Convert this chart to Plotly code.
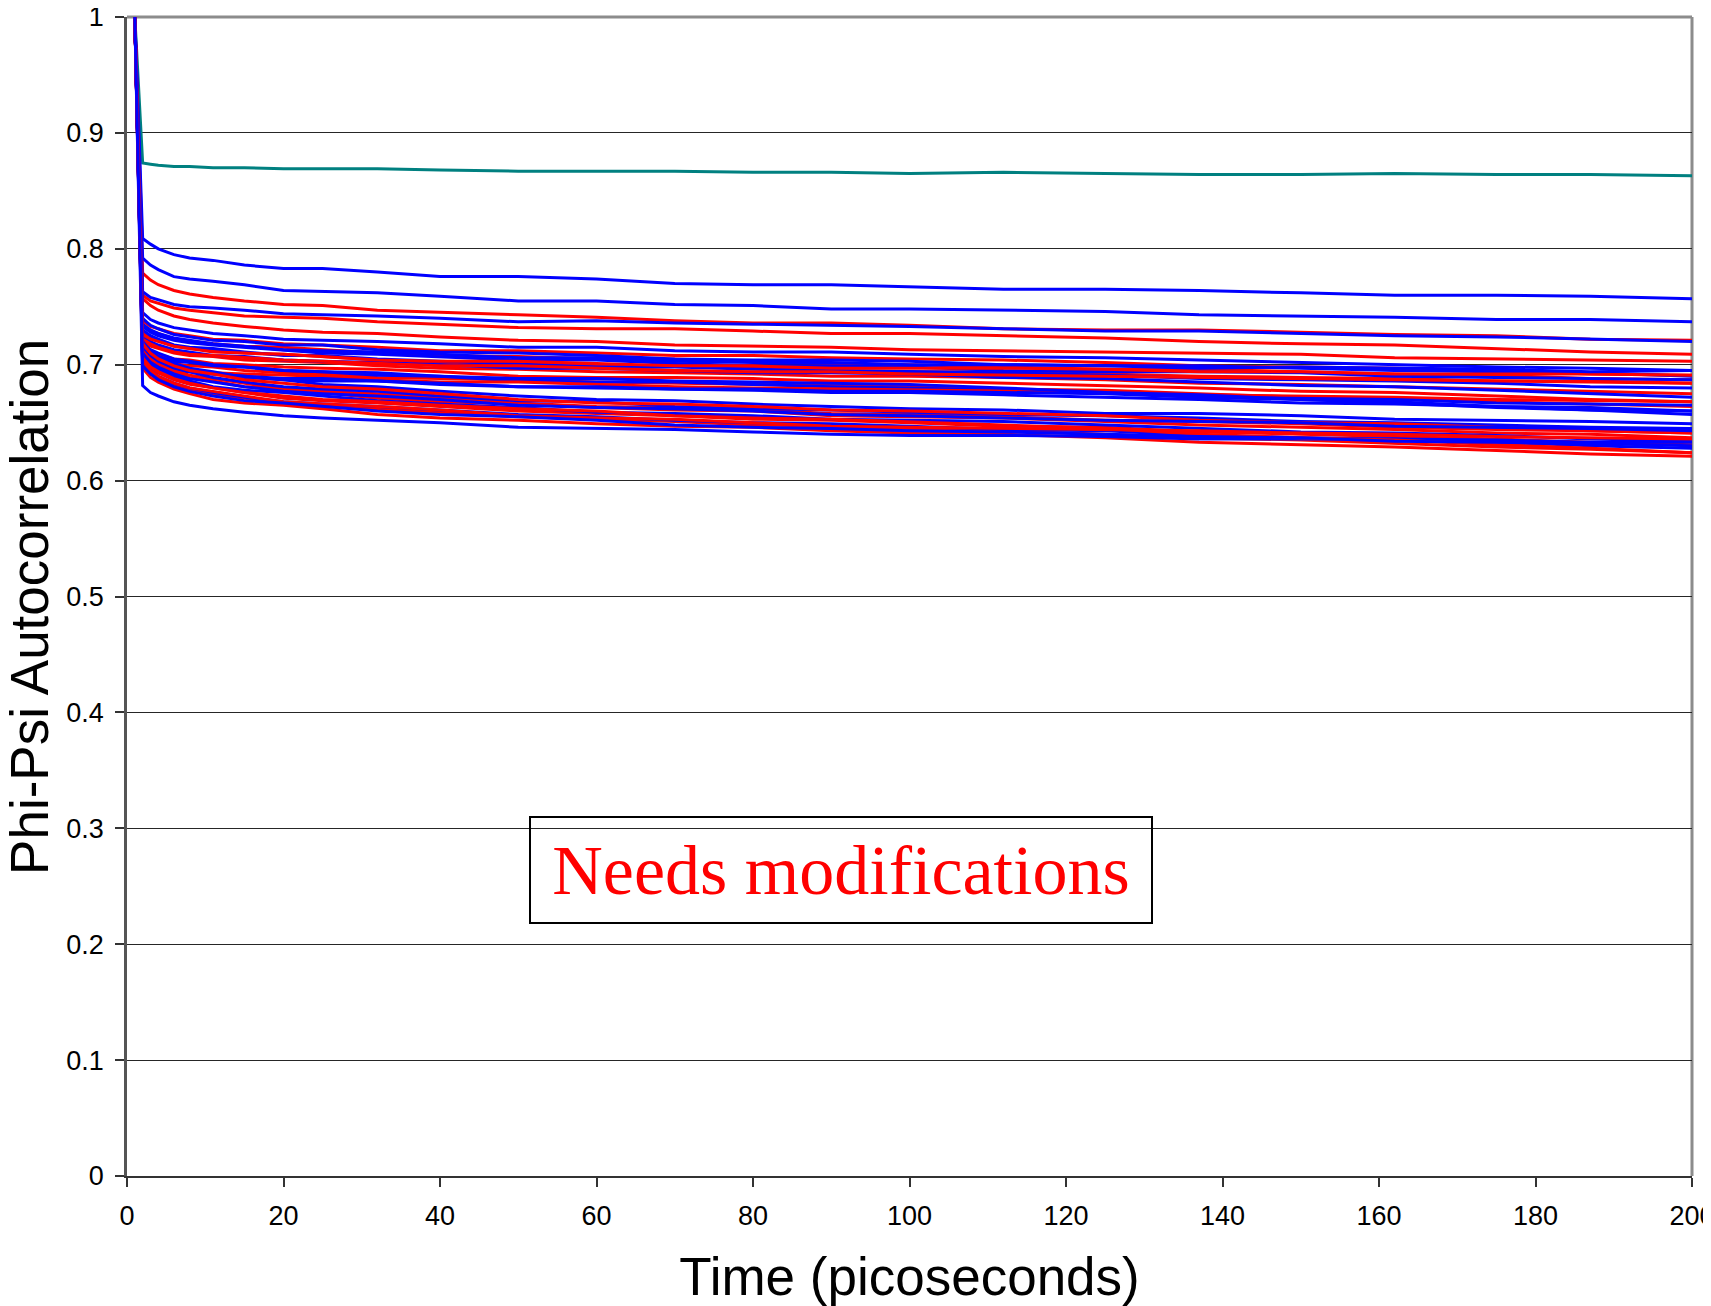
import plotly.graph_objects as go

# Time axis (picoseconds)
time_ps = [1, 2, 3, 4, 6, 8, 11, 15, 20, 25, 32, 40, 50, 60, 70, 80, 90, 100,
           112, 125, 137, 150, 162, 175, 187, 200]

# Teal reference run
teal_run = [1, .874, .873, .872, .871, .871, .870, .870, .869, .869, .869, .868, .867,
            .867, .867, .866, .866, .865, .866, .865, .864, .864, .865, .864, .864, .863]

# Blue runs
blue_runs = [
    [1, .809, .804, .800, .795, .792, .790, .786, .783, .783, .780, .776, .776, .774, .770, .769, .769, .767, .765, .765, .764, .762, .760, .760, .759, .757],
    [1, .792, .786, .782, .776, .774, .772, .769, .764, .763, .762, .759, .755, .755, .752, .751, .748, .748, .747, .746, .743, .742, .741, .739, .739, .737],
    [1, .763, .758, .756, .752, .750, .749, .747, .744, .743, .742, .740, .737, .738, .736, .735, .734, .733, .731, .729, .729, .727, .725, .724, .722, .720],
    [1, .745, .739, .736, .732, .730, .727, .725, .722, .721, .720, .718, .715, .715, .712, .711, .711, .709, .707, .706, .704, .702, .700, .698, .697, .695],
    [1, .740, .734, .731, .726, .724, .721, .720, .717, .717, .713, .711, .710, .708, .705, .704, .704, .703, .700, .699, .699, .697, .695, .694, .693, .690],
    [1, .733, .728, .725, .721, .719, .717, .715, .712, .710, .709, .707, .704, .704, .701, .699, .699, .698, .695, .694, .694, .693, .690, .689, .688, .687],
    [1, .730, .725, .722, .717, .715, .714, .711, .708, .708, .705, .703, .701, .698, .698, .696, .695, .694, .693, .691, .688, .687, .686, .684, .681, .680],
    [1, .724, .720, .717, .713, .711, .708, .707, .704, .703, .702, .700, .697, .697, .695, .693, .693, .692, .689, .688, .685, .682, .681, .678, .675, .672],
    [1, .718, .713, .710, .705, .703, .700, .698, .695, .694, .693, .690, .686, .685, .685, .683, .681, .680, .678, .676, .672, .670, .668, .664, .663, .660],
    [1, .714, .709, .707, .703, .702, .699, .698, .695, .694, .691, .690, .688, .688, .686, .685, .684, .683, .680, .676, .674, .670, .667, .663, .661, .657],
    [1, .707, .703, .700, .697, .695, .692, .690, .688, .688, .686, .683, .681, .680, .679, .678, .676, .676, .674, .672, .670, .667, .666, .664, .661, .660],
    [1, .705, .701, .699, .695, .694, .692, .690, .687, .686, .686, .684, .681, .681, .679, .679, .677, .677, .676, .675, .672, .671, .670, .667, .666, .665],
    [1, .735, .730, .727, .723, .721, .718, .716, .713, .712, .711, .709, .706, .706, .703, .702, .702, .700, .700, .699, .697, .698, .697, .696, .694, .695],
    [1, .720, .712, .707, .701, .697, .694, .689, .687, .683, .681, .677, .673, .670, .669, .666, .664, .662, .661, .658, .658, .656, .653, .652, .651, .649],
    [1, .716, .708, .703, .697, .694, .689, .685, .681, .679, .677, .673, .669, .668, .664, .662, .661, .659, .657, .656, .654, .651, .650, .648, .646, .645],
    [1, .708, .700, .696, .690, .686, .681, .678, .676, .673, .669, .666, .663, .659, .658, .656, .653, .652, .651, .648, .645, .642, .641, .639, .636, .634],
    [1, .702, .695, .690, .684, .680, .676, .672, .668, .666, .664, .661, .657, .655, .652, .650, .649, .647, .644, .643, .639, .637, .636, .633, .630, .628],
    [1, .682, .676, .673, .668, .665, .662, .659, .656, .654, .652, .650, .646, .645, .644, .642, .640, .639, .639, .638, .636, .636, .636, .635, .633, .633],
    [1, .710, .702, .698, .692, .688, .685, .681, .677, .675, .673, .670, .665, .663, .662, .660, .657, .656, .654, .652, .651, .650, .647, .646, .645, .643],
    [1, .699, .692, .687, .681, .677, .673, .669, .667, .664, .660, .657, .655, .652, .648, .646, .645, .643, .642, .640, .638, .637, .634, .633, .632, .630],
]

# Red runs
red_runs = [
    [1, .779, .773, .769, .764, .761, .758, .755, .752, .751, .747, .745, .743, .741, .738, .736, .736, .734, .731, .730, .730, .728, .726, .725, .722, .721],
    [1, .760, .755, .753, .749, .747, .745, .742, .741, .740, .737, .735, .732, .731, .731, .729, .727, .727, .725, .723, .720, .718, .717, .714, .711, .709],
    [1, .757, .751, .747, .742, .739, .736, .733, .730, .728, .727, .724, .721, .720, .717, .716, .715, .713, .712, .711, .710, .709, .706, .705, .704, .703],
    [1, .738, .733, .731, .727, .725, .722, .721, .718, .717, .715, .712, .712, .710, .708, .708, .706, .705, .704, .702, .699, .698, .697, .695, .692, .691],
    [1, .734, .729, .727, .722, .720, .718, .716, .715, .713, .710, .708, .707, .705, .705, .703, .701, .700, .698, .696, .696, .694, .692, .691, .688, .687],
    [1, .728, .723, .721, .716, .714, .712, .710, .709, .707, .704, .702, .701, .699, .699, .697, .695, .694, .694, .692, .690, .689, .688, .686, .686, .684],
    [1, .721, .716, .714, .710, .708, .707, .704, .703, .702, .699, .697, .696, .694, .693, .692, .690, .690, .689, .687, .684, .683, .681, .679, .677, .675],
    [1, .716, .711, .709, .705, .704, .701, .700, .698, .697, .696, .694, .690, .689, .689, .688, .686, .686, .684, .682, .680, .677, .676, .673, .670, .668],
    [1, .712, .707, .705, .701, .699, .698, .695, .693, .692, .689, .688, .687, .685, .684, .683, .682, .681, .679, .678, .675, .672, .671, .668, .666, .664],
    [1, .709, .704, .702, .698, .696, .693, .692, .691, .690, .687, .685, .685, .683, .681, .680, .679, .678, .677, .676, .674, .673, .672, .670, .669, .668],
    [1, .726, .722, .720, .716, .714, .711, .710, .709, .707, .704, .703, .703, .701, .699, .699, .697, .697, .697, .696, .694, .694, .692, .692, .692, .691],
    [1, .722, .718, .715, .711, .709, .708, .706, .704, .703, .701, .699, .699, .697, .695, .694, .694, .692, .691, .690, .689, .688, .687, .686, .685, .684],
    [1, .714, .706, .701, .695, .691, .688, .684, .679, .677, .675, .672, .667, .664, .663, .661, .658, .657, .655, .652, .651, .649, .646, .644, .643, .641],
    [1, .711, .703, .699, .693, .689, .686, .681, .679, .676, .671, .668, .666, .663, .661, .660, .656, .655, .654, .651, .648, .646, .644, .641, .640, .637],
    [1, .705, .697, .693, .687, .683, .680, .676, .671, .669, .667, .664, .660, .658, .656, .653, .652, .650, .647, .646, .642, .640, .638, .636, .633, .631],
    [1, .700, .692, .688, .682, .678, .675, .671, .667, .664, .662, .659, .655, .653, .651, .648, .647, .645, .643, .640, .637, .635, .632, .629, .627, .624],
    [1, .697, .689, .685, .679, .675, .670, .667, .665, .662, .657, .654, .652, .649, .647, .646, .643, .641, .640, .637, .633, .631, .629, .626, .623, .621],
    [1, .703, .695, .690, .684, .680, .677, .673, .668, .666, .664, .661, .656, .654, .653, .650, .647, .646, .645, .644, .643, .641, .640, .638, .637, .636],
    [1, .718, .710, .705, .699, .695, .692, .687, .684, .681, .679, .675, .670, .667, .666, .664, .661, .660, .658, .656, .652, .650, .649, .646, .643, .641],
    [1, .706, .698, .694, .688, .684, .680, .676, .673, .670, .668, .665, .662, .660, .656, .654, .653, .651, .648, .645, .640, .637, .635, .631, .628, .624],
]

x_ticks = [0, 20, 40, 60, 80, 100, 120, 140, 160, 180, 200]
y_ticks = [0, 0.1, 0.2, 0.3, 0.4, 0.5, 0.6, 0.7, 0.8, 0.9, 1]

BLUE = "#0000FF"
RED = "#FF0000"
TEAL = "#008080"
LW = 3

fig = go.Figure()
fig.add_trace(go.Scatter(x=time_ps, y=teal_run, mode="lines",
                         line=dict(color=TEAL, width=LW), showlegend=False))
n = max(len(blue_runs), len(red_runs))
for i in range(n):
    if i < len(red_runs):
        fig.add_trace(go.Scatter(x=time_ps, y=red_runs[i], mode="lines",
                                 line=dict(color=RED, width=LW), showlegend=False))
    if i < len(blue_runs):
        fig.add_trace(go.Scatter(x=time_ps, y=blue_runs[i], mode="lines",
                                 line=dict(color=BLUE, width=LW), showlegend=False))

tick_font = dict(family="Liberation Sans, Arial, sans-serif", size=27, color="black")
title_font = dict(family="Liberation Sans, Arial, sans-serif", size=53, color="black")

fig.update_layout(
    width=1711, height=1306,
    margin=dict(l=119, r=27, t=9, b=138, autoexpand=False),
    paper_bgcolor="white", plot_bgcolor="white",
    showlegend=False,
    xaxis=dict(
        range=[0, 200], tickmode="array", tickvals=x_ticks,
        ticks="outside", ticklen=9, tickwidth=1.5, tickcolor="#333",
        showline=True, linecolor="#333", linewidth=2,
        showgrid=False, zeroline=False, automargin=False,
        tickfont=tick_font, ticklabelstandoff=6, ticklabeloverflow="allow",
        title=dict(text="Time (picoseconds)", font=title_font, standoff=27),
    ),
    yaxis=dict(
        range=[0, 1], tickmode="array", tickvals=y_ticks,
        ticks="outside", ticklen=9, tickwidth=1.5, tickcolor="#333",
        showline=True, linecolor="#555", linewidth=2.5,
        showgrid=True, gridcolor="#262626", gridwidth=1,
        zeroline=False, automargin=False,
        tickfont=tick_font, ticklabelstandoff=6, ticklabeloverflow="allow",
    ),
    shapes=[
        dict(type="line", xref="paper", yref="paper", x0=0, x1=1, y0=1, y1=1,
             line=dict(color="#8c8c8c", width=3), layer="below"),
        dict(type="line", xref="paper", yref="paper", x0=1, x1=1, y0=0, y1=1,
             line=dict(color="#8c8c8c", width=3), layer="below"),
    ],
    annotations=[
        dict(text="Phi-Psi Autocorrelation", xref="paper", yref="paper",
             x=-0.062, y=0.491, xanchor="center", yanchor="middle", showarrow=False,
             textangle=-90, font=title_font),
        dict(text="Needs modifications", xref="paper", yref="paper",
             x=0.456, y=0.264, xanchor="center", yanchor="middle", showarrow=False,
             width=600, height=84, align="center", valign="middle",
             font=dict(family="Liberation Serif, Times New Roman, serif", size=70, color="#FF0000"),
             bordercolor="black", borderwidth=2, borderpad=10, bgcolor="rgba(0,0,0,0)"),
    ],
)

fig.write_html("out.html")
